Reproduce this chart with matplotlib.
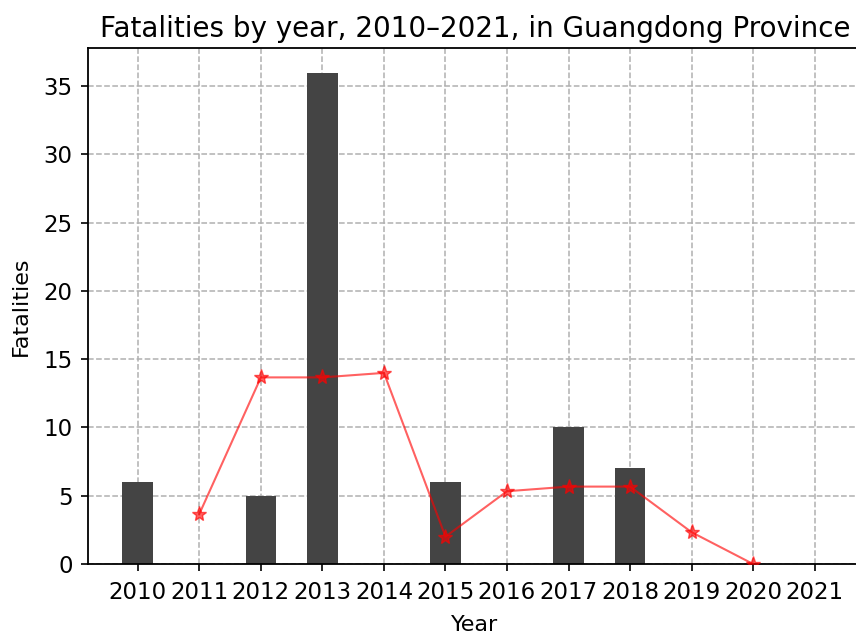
import numpy as np
import matplotlib
matplotlib.use("Agg")
import matplotlib.pyplot as plt

years = [2010, 2011, 2012, 2013, 2014, 2015, 2016, 2017, 2018, 2019, 2020, 2021]
fatalities = [6, 0, 5, 36, 0, 6, 0, 10, 7, 0, 0, 0]

# rolling average (2011-2020)
avg_years = [2011, 2012, 2013, 2014, 2015, 2016, 2017, 2018, 2019, 2020]
avg_values = [3.67, 13.67, 13.67, 14.0, 2.0, 5.33, 5.67, 5.67, 2.33, 0.0]

fig = plt.figure(figsize=(8.56, 6.35), dpi=100)
ax = fig.add_axes([88 / 856, (635 - 564) / 635, (862 - 88) / 856, (564 - 48) / 635])

ax.bar(years, fatalities, width=0.5, color="#444444", zorder=2)
ax.plot(avg_years, avg_values, color="red", alpha=0.62, marker="*",
        markersize=11, linewidth=1.5, zorder=3)

ax.set_xticks(years)
ax.set_xlim(2009.19, 2021.77)
ax.set_ylim(0, 37.8)
ax.grid(True, linestyle="--", color="#b0b0b0", linewidth=1.1, zorder=0)
ax.set_axisbelow(True)
ax.tick_params(labelsize=16.5, length=5, width=1.2)
ax.tick_params(axis="x", pad=7)
ax.tick_params(axis="y", pad=6)
for s in ax.spines.values():
    s.set_linewidth(1.3)

ax.set_xlabel("Year", fontsize=16, labelpad=8)
ax.set_ylabel("Fatalities", fontsize=16, labelpad=9)
ax.set_title("Fatalities by year, 2010\u20132021, in Guangdong Province", fontsize=20, pad=8)

fig.savefig("out.png", dpi=100)
